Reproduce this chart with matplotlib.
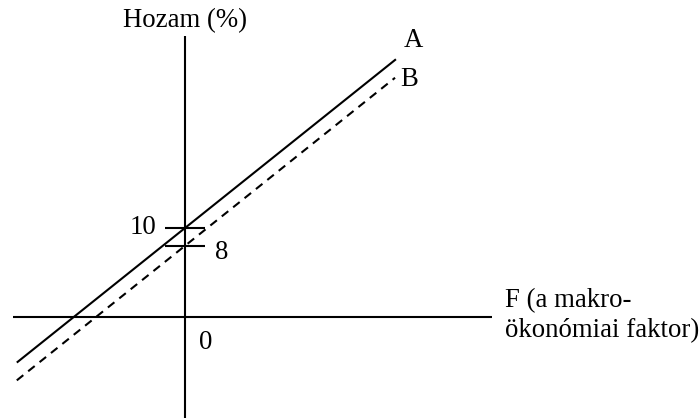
import matplotlib
matplotlib.use("Agg")
import matplotlib.pyplot as plt
import numpy as np

# ---- data -------------------------------------------------------------
series_names = ["A", "B"]
intercepts = [10, 8]          # Hozam (%) at F = 0
slopes = [0.8, 0.8]           # sensitivity to the macro factor
f_start = [-18.9, -18.9]
f_end = [23.7, 23.6]
line_styles = ["solid", "dashed"]
tick_values = [10, 8]
tick_labels = ["10", "8"]

# ---- layout -----------------------------------------------------------
PX = 8.9                      # pixels per data unit
W, H = 700, 418
OX, OY = 185, 317             # pixel position of the origin

plt.rcParams['font.family'] = ['Liberation Serif', 'DejaVu Serif']
FS = 19.3

fig = plt.figure(figsize=(7, 4.18), dpi=100)
ax = fig.add_axes([0, 0, 1, 1])
ax.set_xlim(-OX / PX, (W - OX) / PX)
ax.set_ylim(-(H - OY) / PX, OY / PX)
ax.axis('off')

LW = 1.5
# axes
ax.plot([-19.3, 34.5], [0, 0], color='black', lw=LW, solid_capstyle='butt')
ax.plot([0, 0], [-(H - OY) / PX, 31.6], color='black', lw=LW, solid_capstyle='butt')

# lines A and B
for name, b, s, f0, f1, ls in zip(series_names, intercepts, slopes, f_start, f_end, line_styles):
    F = np.array([f0, f1])
    y = b + s * F
    if ls == 'dashed':
        ax.plot(F, y, color='black', lw=LW, linestyle=(0, (4, 3)))
    else:
        ax.plot(F, y, color='black', lw=LW, solid_capstyle='butt')

# tick marks on vertical axis
for v in tick_values:
    ax.plot([-2.25, 2.25], [v, v], color='black', lw=LW, solid_capstyle='butt')

# tick labels
ax.text(-3.2, tick_values[0], tick_labels[0], fontsize=FS, ha='right', va='center')
ax.text(3.4, tick_values[1] - 0.8, tick_labels[1], fontsize=FS, ha='left', va='center')
ax.text(1.6, -2.9, "0", fontsize=FS, ha='left', va='center')

# line labels
ax.text(24.6, 31.1, series_names[0], fontsize=FS, ha='left', va='center')
ax.text(24.2, 26.7, series_names[1], fontsize=FS, ha='left', va='center')

# axis titles
ax.text(0, 32.6, "Hozam (%)", fontsize=FS, ha='center', va='baseline')
ax.text(35.9, 1.15, "F (a makro-", fontsize=FS, ha='left', va='baseline')
ax.text(35.9, -2.3, "ökonómiai faktor)", fontsize=FS, ha='left', va='baseline')

fig.savefig("out.png", dpi=100)
